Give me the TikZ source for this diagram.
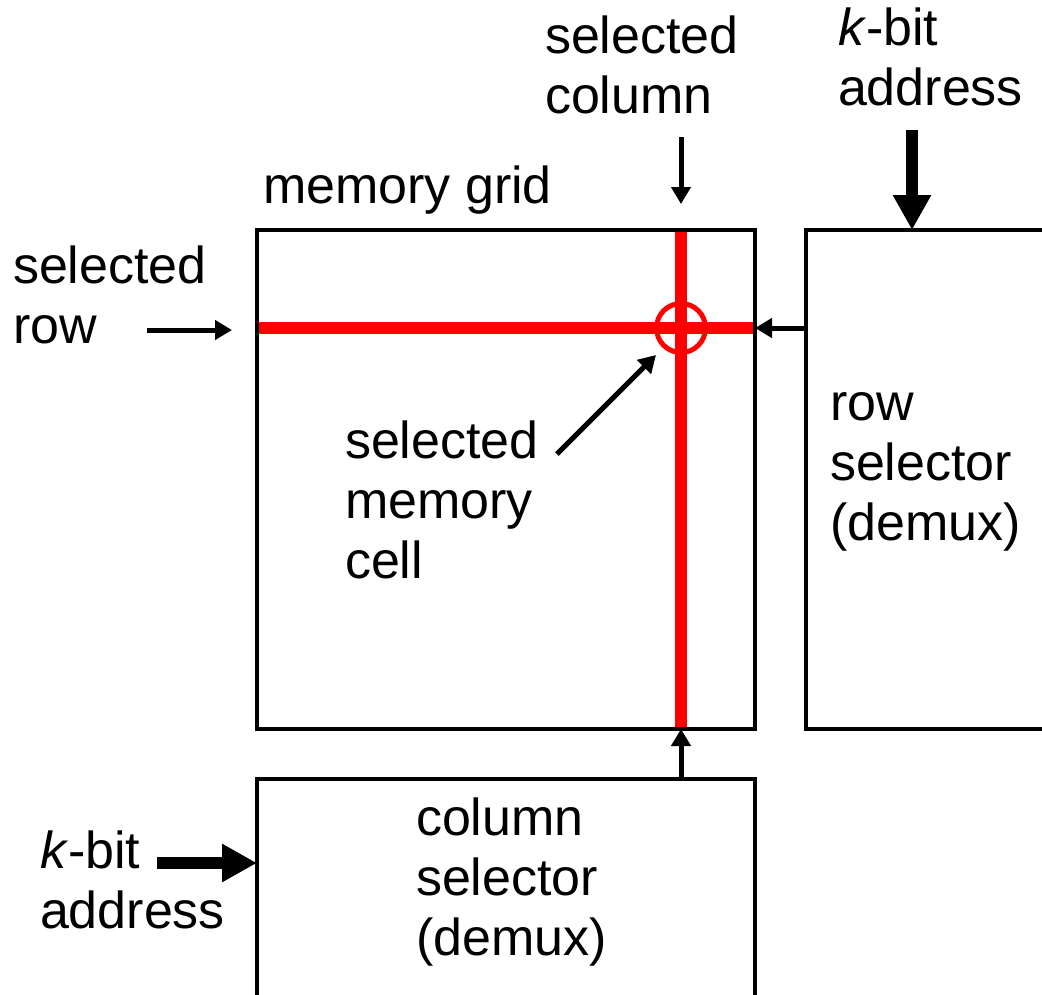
\documentclass[tikz,border=0pt]{standalone}
\usepackage{fontspec}
\setmainfont{Liberation Sans}
\usetikzlibrary{arrows.meta}
\begin{document}
\begin{tikzpicture}[x=1pt,y=-1pt,
  box/.style={draw=black, line width=4pt, rectangle, inner sep=0pt, outer sep=0pt, anchor=north west},
  lbl/.style={inner sep=0pt, outer sep=0pt, anchor=base west, align=left, font=\fontsize{52}{60}\selectfont},
  thinarrow/.style={line width=5pt, -{Triangle[width=19pt,length=17pt]}},
  thickarrow/.style={line width=12pt, -{Triangle[width=36pt,length=35pt]}},
  selline/.style={draw=red, line width=12pt}]
\useasboundingbox (0,0) rectangle (1042,994);
\clip (0,0) rectangle (1042,994);

% selected cell position
\coordinate (cell) at (681,328);

% red selection lines (under the grid frame)
\draw[selline] (257,328) coordinate (rowL) -- (755,328) coordinate (rowR);
\draw[selline] (681,230) coordinate (colT) -- (681,729) coordinate (colB);
\node[circle, draw=red, line width=5pt, minimum size=49pt, inner sep=0pt, outer sep=0pt] (cellmark) at (cell) {};

% blocks
\node[box, minimum width=498pt, minimum height=499pt] (grid) at (257,230) {};
\node[box, minimum width=240pt, minimum height=499pt] (rowsel) at (806,230) {};
\node[box, minimum width=498pt, minimum height=260pt] (colsel) at (257,779) {};

% labels (a multi-line node sits on the baseline of its last line)
\node[lbl] (colLbl) at (545,113) {selected\\column};
\node[lbl] (addrTop) at (838,105) {\textit{k}-bit\\address};
\node[lbl] (gridLbl) at (263,203) {memory grid};
\node[lbl] (rowLbl) at (13,343) {selected\\row};
\node[lbl] (cellLbl) at (345,578) {selected\\memory\\cell};
\node[lbl] (rowselLbl) at (830,540) {row\\selector\\(demux)};
\node[lbl] (colselLbl) at (416,955) {column\\selector\\(demux)};
\node[lbl] (addrBot) at (40,928) {\textit{k}-bit\\address};

% arrow end points
\coordinate (colTail) at (681,137);
\coordinate (colHead) at (681,204);
\coordinate (rowTail) at (147,330);
\coordinate (rowHead) at (232,330);
\coordinate (addrTopTail) at (912,130);
\coordinate (addrBotTail) at (157,863);
\coordinate (cellTail) at (557,454);
\coordinate (cellHead) at (656,355);

% connectors
\draw[thinarrow] (colTail) -- (colHead);
\draw[thinarrow] (rowTail) -- (rowHead);
\draw[thinarrow] (cellTail) -- (cellHead);
\draw[thinarrow] (rowsel.west |- cell) -- (grid.east |- cell);
\draw[thinarrow] (colsel.north -| cell) -- (grid.south -| cell);
\draw[thickarrow] (addrTopTail) -- (rowsel.north -| addrTopTail);
\draw[thickarrow] (addrBotTail) -- (colsel.west |- addrBotTail);
\end{tikzpicture}
\end{document}
